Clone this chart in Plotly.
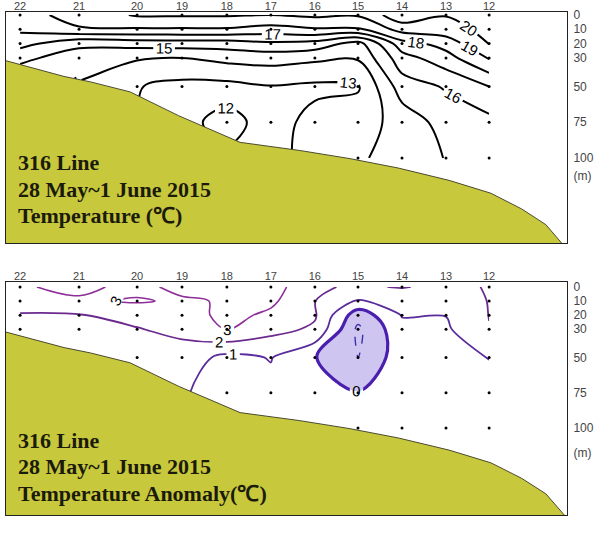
import plotly.graph_objects as go

# ---------------- data ----------------
stations = ['22', '21', '20', '19', '18', '17', '16', '15', '14', '13', '12']
station_km = [0, 13.4, 26.6, 36.8, 47.0, 57.0, 67.0, 76.8, 86.8, 96.8, 106.6]
depths = [0, 10, 20, 30, 50, 75, 100]
deepest_sample = [30, 30, 50, 50, 75, 75, 75, 100, 100, 100, 100]

# temperature (deg C) per station, at depths 0,10,20,30,50,75,100 m
temp_22 = [17.6, 17.2, 16.4, 15.2, None, None, None]
temp_21 = [18.4, 17.9, 15.2, 14.6, None, None, None]
temp_20 = [19.1, 17.9, 15.4, 14.1, 13.05, None, None]
temp_19 = [19.1, 17.9, 15.5, 14.0, 12.7, None, None]
temp_18 = [19.1, 17.9, 15.5, 14.3, 12.7, 11.5, None]
temp_17 = [19.0, 17.6, 15.8, 14.4, 12.95, 12.6, None]
temp_16 = [19.2, 17.9, 15.6, 14.2, 12.8, 13.3, None]
temp_15 = [19.1, 17.85, 14.6, 14.1, 12.9, 13.5, 13.9]
temp_14 = [20.7, 19.4, 17.6, 16.6, 15.5, 14.4, 14.3]
temp_13 = [20.05, 19.6, 18.4, 17.6, 16.1, 15.4, 15.05]
temp_12 = [21.0, 20.3, 20.05, 19.1, 17.0, 15.7, 15.4]

# temperature anomaly (deg C)
anom_22 = [2.9, 2.6, 1.9, 1.6, None, None, None]
anom_21 = [3.25, 2.85, 1.95, 1.8, None, None, None]
anom_20 = [2.7, 3.1, 2.3, 1.95, 1.6, None, None]
anom_19 = [3.3, 2.85, 2.5, 2.25, 1.55, None, None]
anom_18 = [3.2, 3.1, 3.3, 3.05, 0.72, 0.5, None]
anom_17 = [3.5, 3.2, 2.8, 2.3, 1.05, 0.7, None]
anom_16 = [2.1, 2.02, 2.1, 1.85, 0.05, 0.4, None]
anom_15 = [1.9, 0.9, -0.6, -1.2, -1.05, 0.05, 0.6]
anom_14 = [2.05, 1.4, 1.05, 0.75, 0.6, 0.5, 0.45]
anom_13 = [1.8, 1.5, 1.02, 0.85, 0.6, 0.5, 0.4]
anom_12 = [2.05, 2.03, 2.02, 1.97, 1.02, 0.7, 0.6]

# bathymetry along the line
seabed_km = [-3.2, 10, 16, 25, 36, 50, 63.6, 75, 86, 97.5, 107, 114, 119.5, 124.6]
seabed_depth = [32, 43, 46.8, 53.8, 70.4, 89.1, 94.8, 100.5, 107.1, 115.7, 124.7, 135.7, 146.7, 165]

temp_levels = (12, 20)
anom_levels = [3, 2, 1, 0, -1]
anom_colors = ['#8d2f98', '#6c2a8f', '#5a2c9c', '#4a1fae', '#3a32a8']
anom_widths = [1.6, 1.8, 1.8, 3.2, 1.4]

temp_cols = [temp_22, temp_21, temp_20, temp_19, temp_18, temp_17, temp_16,
             temp_15, temp_14, temp_13, temp_12]
anom_cols = [anom_22, anom_21, anom_20, anom_19, anom_18, anom_17, anom_16,
             anom_15, anom_14, anom_13, anom_12]

def to_rows(cols):
    return [[c[i] for c in cols] for i in range(len(depths))]

temp_z = to_rows(temp_cols)
anom_z = to_rows(anom_cols)

dot_x, dot_y = [], []
for km, dmax in zip(station_km, deepest_sample):
    for d in depths:
        if d <= dmax:
            dot_x.append(km)
            dot_y.append(d)

# ---------------- figure ----------------
fig = go.Figure()
SEABED = '#c8c83c'
LABEL_FONT = dict(family='Liberation Sans, Arial', size=15, color='black')

# top: temperature
fig.add_trace(go.Contour(
    x=station_km, y=depths, z=temp_z, xaxis='x', yaxis='y', connectgaps=True,
    contours=dict(coloring='none', start=temp_levels[0], end=temp_levels[1], size=1,
                  showlabels=True, labelfont=LABEL_FONT, labelformat='.0f'),
    line=dict(color='black', width=2), showscale=False, hoverinfo='skip'))

# bottom: anomaly (negative region shaded)
fig.add_trace(go.Contour(
    x=station_km, y=depths, z=anom_z, xaxis='x2', yaxis='y2', connectgaps=True,
    contours=dict(type='constraint', operation='>', value=0),
    fillcolor='rgba(125,105,215,0.38)', line=dict(width=0),
    showscale=False, hoverinfo='skip'))
for lev, col, w in zip(anom_levels, anom_colors, anom_widths):
    fig.add_trace(go.Contour(
        x=station_km, y=depths, z=anom_z, xaxis='x2', yaxis='y2', connectgaps=True,
        contours=dict(coloring='none', start=lev, end=lev, size=1,
                      showlabels=True, labelfont=LABEL_FONT, labelformat='.0f'),
        line=dict(color=col, width=w, dash='dash' if lev < 0 else 'solid'),
        showscale=False, hoverinfo='skip'))

for xa, ya in (('x', 'y'), ('x2', 'y2')):
    fig.add_trace(go.Scatter(
        x=seabed_km + [130, -10], y=seabed_depth + [300, 300],
        xaxis=xa, yaxis=ya, mode='lines', fill='toself', fillcolor=SEABED,
        line=dict(color='#4a4a30', width=1), hoverinfo='skip'))
    fig.add_trace(go.Scatter(
        x=dot_x, y=dot_y, xaxis=xa, yaxis=ya, mode='markers',
        marker=dict(color='black', size=3), hoverinfo='skip'))

tick_font = dict(family='Liberation Sans, Arial', size=12, color='#444444')
xtick_font = dict(family='Liberation Sans, Arial', size=11, color='#444444')
xcommon = dict(range=[-3.2, 124.3], showgrid=False, zeroline=False, side='top',
               tickmode='array', tickvals=station_km, ticktext=stations,
               ticks='', tickfont=xtick_font, ticklabelstandoff=-3,
               showline=True, mirror=True,
               automargin=False, linecolor='#222222', linewidth=1)
ycommon = dict(side='right', showgrid=False, zeroline=False, tickmode='array',
               ticks='outside', ticklen=3, tickcolor='rgba(0,0,0,0)',
               tickfont=tick_font, showline=True, mirror=True, automargin=False,
               linecolor='#222222', linewidth=1)
fig.update_layout(
    width=601, height=536, showlegend=False,
    paper_bgcolor='white', plot_bgcolor='white',
    margin=dict(l=6, r=34, t=12, b=21, autoexpand=False),
    xaxis=dict(domain=[0, 1], anchor='y', **xcommon),
    xaxis2=dict(domain=[0, 1], anchor='y2', **xcommon),
    yaxis=dict(domain=[0.5408, 1], anchor='x', range=[159.5, -2.1],
               tickvals=[0, 10, 20, 30, 50, 75, 100, 112.5],
               ticktext=['0', '10', '20', '30', '50', '75', '100', '(m)'], **ycommon),
    yaxis2=dict(domain=[0, 0.4632], anchor='x2', range=[161.7, -3.5],
                tickvals=[0, 10, 20, 30, 50, 75, 100, 117.5],
                ticktext=['0', '10', '20', '30', '50', '75', '100', '(m)'], **ycommon),
)

title_font = dict(family='Liberation Serif, Times New Roman', size=22, color='#1b1b0c')
top_lines = ['<b>316 Line</b>', '<b>28 May~1 June 2015</b>', '<b>Temperature (℃)</b>']
bot_lines = ['<b>316 Line</b>', '<b>28 May~1 June 2015</b>', '<b>Temperature Anomaly(℃)</b>']
for i, t in enumerate(top_lines):
    fig.add_annotation(text=t, xref='x domain', yref='y domain', x=0.018,
                       y=(243 - (163 + 26.5 * i)) / 231.0, xanchor='left', yanchor='middle',
                       showarrow=False, font=title_font)
for i, t in enumerate(bot_lines):
    fig.add_annotation(text=t, xref='x2 domain', yref='y2 domain', x=0.018,
                       y=(515 - (440 + 26.5 * i)) / 233.0, xanchor='left', yanchor='middle',
                       showarrow=False, font=title_font)

fig.write_html('out.html', config={'displayModeBar': False},
               post_script="document.body.style.margin='0px';")
